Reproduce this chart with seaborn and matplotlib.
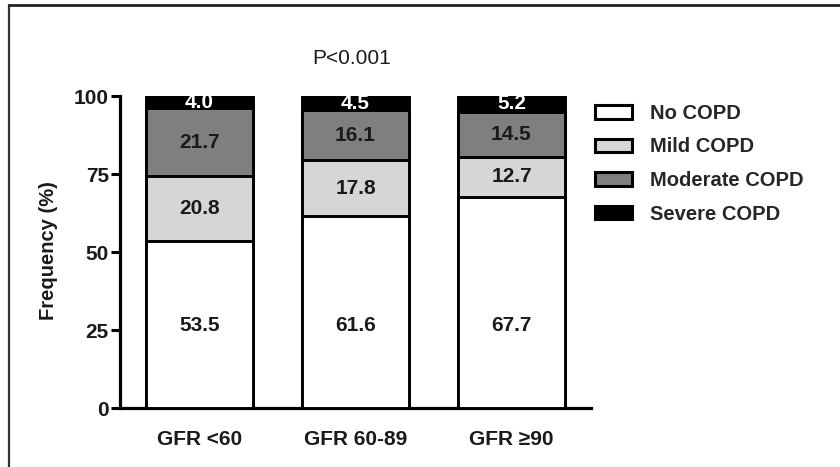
import matplotlib
matplotlib.use("Agg")
import matplotlib.pyplot as plt
import seaborn as sns
import numpy as np
from matplotlib.patches import Patch
from matplotlib.lines import Line2D

categories = ["GFR <60", "GFR 60-89", "GFR \u226590"]
levels = ["No COPD", "Mild COPD", "Moderate COPD", "Severe COPD"]
no_copd = [53.5, 61.6, 67.7]
mild_copd = [20.8, 17.8, 12.7]
moderate_copd = [21.7, 16.1, 14.5]
severe_copd = [4.0, 4.5, 5.2]
yticks = [0, 25, 50, 75, 100]
p_text = "P<0.001"

colors = ["#ffffff", "#d6d6d6", "#7f7f7f", "#000000"]
text_colors = ["#1a1a1a", "#1a1a1a", "#1a1a1a", "#ffffff"]

sns.set_style("white")
plt.rcParams['font.family'] = ['Liberation Sans', 'DejaVu Sans']

fig = plt.figure(figsize=(8.4, 4.67), dpi=100)
ax = fig.add_axes([120/840, 1-408/467, (591-120)/840, (408-96)/467])

series = [no_copd, mild_copd, moderate_copd, severe_copd]
cums = np.cumsum(np.array(series), axis=0)

# draw from the top-most cumulative down so lower segments overlay
for i in range(3, -1, -1):
    sns.barplot(x=categories, y=list(cums[i]), color=colors[i], saturation=1,
                width=0.69, edgecolor="black", linewidth=2.1, ax=ax, zorder=2+(3-i))

# value labels (bottom segment labels sit at a common height, as in the original)
for i, s in enumerate(series):
    for j, v in enumerate(s):
        bottom = cums[i][j] - v
        ypos = 26.5 if i == 0 else bottom + v/2
        ax.text(j, ypos, f"{v:.1f}", ha="center", va="center",
                fontsize=15, fontweight="bold", color=text_colors[i], zorder=10)

ax.set_xlim(-0.51, 2.51)
ax.set_ylim(0, 100)
ax.set_yticks(yticks)
ax.set_yticklabels([str(t) for t in yticks], fontsize=15, fontweight="bold", color="#1a1a1a")
for lab in ax.get_xticklabels():
    lab.set_fontsize(15)
    lab.set_fontweight("bold")
    lab.set_color("#1a1a1a")
ax.tick_params(axis="x", length=0, pad=16)
ax.tick_params(axis="y", length=6.5, width=2.2, pad=1.5, color="black", left=True)
for side in ["top", "right"]:
    ax.spines[side].set_visible(False)
for side in ["left", "bottom"]:
    ax.spines[side].set_linewidth(2.3)
    ax.spines[side].set_color("black")
ax.set_xlabel("")
ax.set_ylabel("")

fig.text(48/840, 1-251/467, "Frequency (%)", rotation=90, ha="center", va="center",
         fontsize=14.5, fontweight="bold", color="#1a1a1a")
fig.text(352/840, 1-58/467, p_text, ha="center", va="center", fontsize=15, color="#1a1a1a")

handles = [Patch(facecolor=colors[i], edgecolor="black", linewidth=2.2, label=levels[i]) for i in range(4)]
fig.legend(handles=handles, loc="upper left", bbox_to_anchor=(595/840, 1-104/467),
           frameon=False, prop={"weight": "bold", "size": 14.5},
           handlelength=1.85, handleheight=0.65, handletextpad=0.9, labelspacing=0.72,
           borderpad=0, borderaxespad=0)

# outer frame (left and top edges visible)
fig.add_artist(Line2D([9/840, 9/840], [0, 1-5/467], transform=fig.transFigure, color="#333333", linewidth=1.6))
fig.add_artist(Line2D([9/840, 1], [1-5/467, 1-5/467], transform=fig.transFigure, color="#222222", linewidth=2.0))

fig.savefig("out.png", dpi=100)
